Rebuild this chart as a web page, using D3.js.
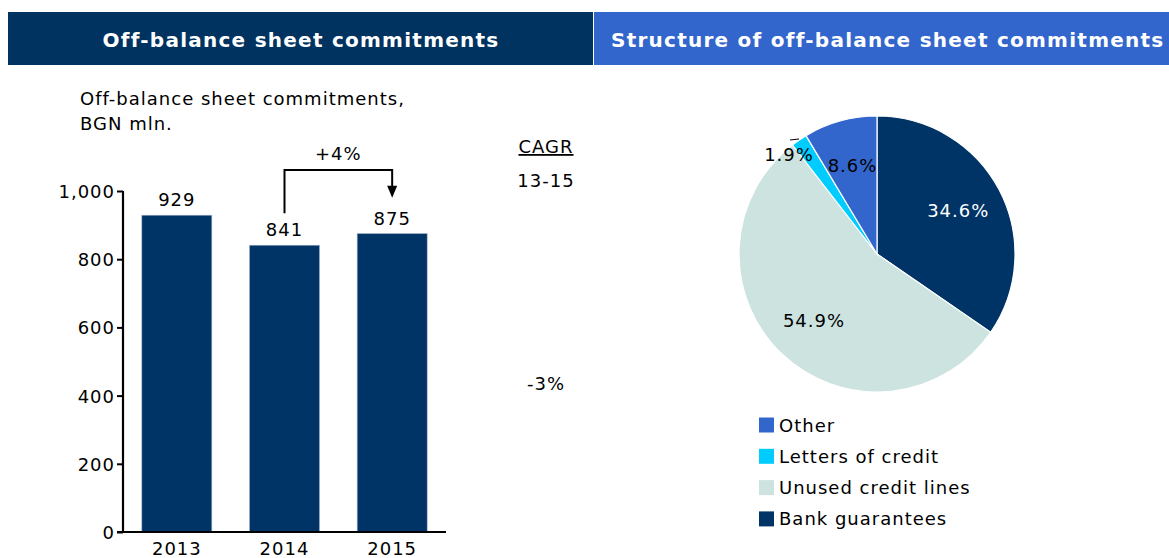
<!DOCTYPE html>
<html>
<head>
<meta charset="utf-8">
<script src="https://cdn.jsdelivr.net/npm/d3@7"></script>
<style>
  html, body { margin: 0; padding: 0; background: #fff; }
  svg { display: block; font-family: "DejaVu Sans", Verdana, sans-serif; }
  .lbl { font-size: 18px; letter-spacing: 1px; }
</style>
</head>
<body>
<svg id="chart" width="1169" height="558"></svg>
<script>
// Off-balance sheet commitments, BGN mln.
const years = ["2013", "2014", "2015"];
const commitments = [929, 841, 875];
const yTicks = [0, 200, 400, 600, 800, 1000];

// Structure of commitments, share in %
const segments = ["Bank guarantees", "Unused credit lines", "Letters of credit", "Other"];
const shares = [34.6, 54.9, 1.9, 8.6];
const segmentColors = ["#003366", "#cce3e0", "#00ccff", "#3366cc"];
const legendOrder = ["Other", "Letters of credit", "Unused credit lines", "Bank guarantees"];

const growthLabel = "+4%";
const cagrTitle = "CAGR";
const cagrPeriod = "13-15";
const cagrValue = "-3%";

const svg = d3.select("#chart");

// Section headers
const headers = [
  { x0: 8, x1: 593, fill: "#00335f", text: "Off-balance sheet commitments" },
  { x0: 594, x1: 1169, fill: "#3366cc", text: "Structure of off-balance sheet commitments" }
];
svg.selectAll("rect.header").data(headers).join("rect")
  .attr("class", "header")
  .attr("x", d => d.x0).attr("y", 12)
  .attr("width", d => d.x1 - d.x0).attr("height", 53)
  .attr("fill", d => d.fill);
svg.selectAll("text.header").data(headers).join("text")
  .attr("class", "header")
  .attr("x", (d, i) => i === 0 ? 301 : 611)
  .attr("y", 47)
  .attr("text-anchor", (d, i) => i === 0 ? "middle" : "start")
  .attr("fill", "#fff")
  .attr("font-weight", "bold")
  .attr("font-size", 20)
  .attr("letter-spacing", "1.25px")
  .text(d => d.text);

// Bar chart title
svg.append("text").attr("class", "lbl").attr("x", 80).attr("y", 105)
  .text("Off-balance sheet commitments,");
svg.append("text").attr("class", "lbl").attr("x", 80).attr("y", 130)
  .text("BGN mln.");

// Scales
const x = d3.scaleBand().domain(years).range([123, 446]).paddingInner(0.35).paddingOuter(0.175);
const y = d3.scaleLinear().domain([0, 1000]).range([532, 191]);

const gBars = svg.append("g");
gBars.selectAll("rect").data(commitments).join("rect")
  .attr("x", (d, i) => x(years[i]))
  .attr("y", d => y(d))
  .attr("width", x.bandwidth())
  .attr("height", d => y(0) - y(d))
  .attr("fill", "#003366")
  .attr("stroke", "#9fb0c8")
  .attr("stroke-width", 0.6);

gBars.selectAll("text").data(commitments).join("text")
  .attr("class", "lbl")
  .attr("x", (d, i) => x(years[i]) + x.bandwidth() / 2)
  .attr("y", d => y(d) - 9)
  .attr("text-anchor", "middle")
  .text(d => d3.format(",")(d));

// Y axis
const yAxis = svg.append("g").attr("transform", "translate(123,0)")
  .call(d3.axisLeft(y).tickValues(yTicks).tickSize(6).tickPadding(2).tickFormat(d3.format(",")));
yAxis.select(".domain").attr("stroke", "#000").attr("stroke-width", 2.2)
  .attr("d", `M0,${y(1000)}V${y(0)}`);
yAxis.selectAll(".tick line").attr("stroke", "#000").attr("stroke-width", 2);
yAxis.selectAll(".tick text").attr("class", "lbl").attr("font-family", "DejaVu Sans, Verdana, sans-serif")
  .attr("fill", "#000").attr("dy", "0.36em");

// X axis
const xAxis = svg.append("g").attr("transform", `translate(0,${y(0)})`)
  .call(d3.axisBottom(x).tickSize(0).tickPadding(7));
xAxis.select(".domain").attr("stroke", "#000").attr("stroke-width", 2.2)
  .attr("d", `M117,0H446`);
xAxis.selectAll(".tick text").attr("class", "lbl").attr("font-family", "DejaVu Sans, Verdana, sans-serif")
  .attr("fill", "#000").attr("dy", "0.9em");

// Growth bracket 2014 -> 2015
const cx14 = x("2014") + x.bandwidth() / 2;
const cx15 = x("2015") + x.bandwidth() / 2;
const topY = 170;
svg.append("path")
  .attr("d", `M${cx14},${y(841) - 32}V${topY}H${cx15}V${y(875) - 46}`)
  .attr("fill", "none").attr("stroke", "#000").attr("stroke-width", 2);
svg.append("path")
  .attr("d", `M${cx15 - 5},${y(875) - 48}L${cx15 + 5},${y(875) - 48}L${cx15},${y(875) - 36}Z`)
  .attr("fill", "#000");
svg.append("text").attr("class", "lbl").attr("x", (cx14 + cx15) / 2).attr("y", 160)
  .attr("text-anchor", "middle").text(growthLabel);

// CAGR column
svg.append("text").attr("class", "lbl").attr("x", 546).attr("y", 153).attr("text-anchor", "middle")
  .attr("text-decoration", "underline").text(cagrTitle);
svg.append("text").attr("class", "lbl").attr("x", 546).attr("y", 187).attr("text-anchor", "middle")
  .text(cagrPeriod);
svg.append("text").attr("class", "lbl").attr("x", 546).attr("y", 390).attr("text-anchor", "middle")
  .text(cagrValue);

// Pie chart
const pcx = 877, pcy = 254, radius = 138;
const pie = d3.pie().sort(null).value(d => d)(shares);
const arc = d3.arc().innerRadius(0).outerRadius(radius);
const labelArc = d3.arc().innerRadius(radius * 0.665).outerRadius(radius * 0.665);
const gPie = svg.append("g").attr("transform", `translate(${pcx},${pcy})`);
gPie.selectAll("path").data(pie).join("path")
  .attr("d", arc)
  .attr("fill", (d, i) => segmentColors[i])
  .attr("stroke", "#fff").attr("stroke-width", 1.2);

gPie.selectAll("text").data(pie).join("text")
  .attr("class", "lbl")
  .attr("transform", (d, i) => {
    if (i === 2) return "translate(-88,-93)";
    const c = labelArc.centroid(d);
    return `translate(${c[0]},${c[1] + 6})`;
  })
  .attr("text-anchor", "middle")
  .attr("fill", (d, i) => i === 0 ? "#fff" : "#000")
  .text(d => d.data.toFixed(1) + "%");

// Leader for the small slice
svg.append("line").attr("x1", 790).attr("y1", 140).attr("x2", 799).attr("y2", 139)
  .attr("stroke", "#000").attr("stroke-width", 1);

// Legend
const gLeg = svg.append("g");
legendOrder.forEach((name, i) => {
  const yy = 425 + i * 31.3;
  gLeg.append("rect").attr("x", 759).attr("y", yy - 7.5).attr("width", 15).attr("height", 15)
    .attr("fill", segmentColors[segments.indexOf(name)]);
  gLeg.append("text").attr("class", "lbl").attr("x", 779).attr("y", yy + 6.5).text(name);
});
</script>
</body>
</html>
